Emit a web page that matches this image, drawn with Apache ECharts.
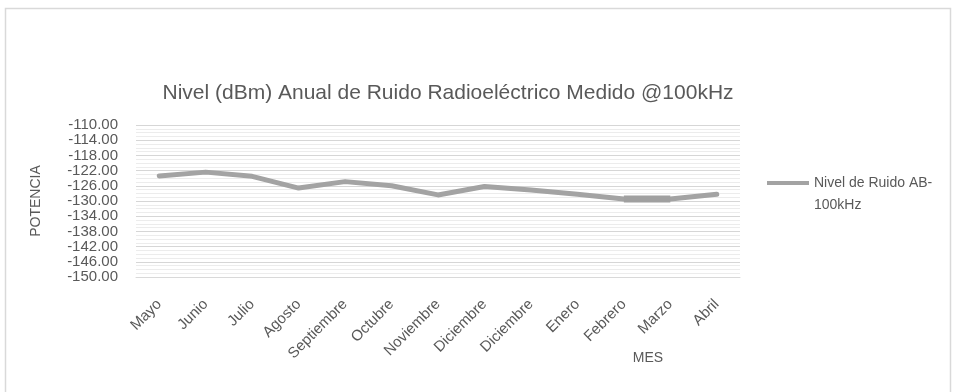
<!DOCTYPE html>
<html>
<head>
<meta charset="utf-8">
<script src="https://cdn.jsdelivr.net/npm/echarts@6/dist/echarts.min.js"></script>
<style>
  html, body { margin: 0; padding: 0; background: #ffffff; }
  #chart { width: 954px; height: 392px; }
</style>
</head>
<body>
<div id="chart"></div>
<script>
// Monthly categories (May to April)
const months = ['Mayo', 'Junio', 'Julio', 'Agosto', 'Septiembre', 'Octubre', 'Noviembre',
                'Diciembre', 'Diciembre', 'Enero', 'Febrero', 'Marzo', 'Abril'];
// Measured noise level, dBm
const noiseLevel = [-123.4, -122.4, -123.5, -126.6, -124.9, -126.0, -128.4,
                    -126.2, -127.1, -128.2, -129.5, -129.5, -128.2];
// Feb–Mar stretch drawn with a heavier stroke
const heavyIdx = [10, 11];
const heavySegment = noiseLevel.map((v, i) => heavyIdx.includes(i) ? v : null);

const yMin = -150, yMax = -110, yStep = 4;
const seriesName = 'Nivel de Ruido AB-\n100kHz';

const chart = echarts.init(document.getElementById('chart'), null, { renderer: 'canvas' });
const txt = '#595959';
const font = 'Liberation Sans, Arial, sans-serif';

chart.setOption({
  animation: false,
  backgroundColor: '#ffffff',
  textStyle: { fontFamily: font },
  graphic: [{
    type: 'rect',
    shape: { x: 5.5, y: 8.5, width: 945, height: 400 },
    style: { fill: 'none', stroke: '#d9d9d9', lineWidth: 1.5 },
    silent: true
  }],
  title: {
    text: 'Nivel (dBm) Anual de Ruido Radioeléctrico Medido @100kHz',
    left: 443, top: 78, textAlign: 'center',
    textStyle: { fontSize: 21, fontWeight: 'normal', color: txt, fontFamily: font }
  },
  legend: {
    data: [seriesName],
    left: 762, top: 167,
    itemWidth: 42, itemHeight: 26, itemGap: 4,
    // legend stroke sits level with the first text line
    icon: 'path://M0,0L42,0L42,4L0,4Z M0,25.9L0.05,25.9L0.05,26L0,26Z',
    textStyle: { fontSize: 14, color: txt, fontFamily: font, lineHeight: 22 }
  },
  grid: { left: 136, right: 214, top: 125, bottom: 115, containLabel: false },
  xAxis: {
    type: 'category',
    data: months,
    boundaryGap: true,
    name: 'MES',
    nameLocation: 'middle',
    nameGap: 74,
    nameMoveOverlap: false,
    nameTextStyle: { fontSize: 14, color: txt, padding: [0, 0, 0, 420] },
    axisLine: { show: true, lineStyle: { color: '#d9d9d9', width: 1 } },
    axisTick: { show: false },
    axisLabel: { rotate: 45, fontSize: 15, color: txt, margin: 25, interval: 0 },
    splitLine: { show: false }
  },
  yAxis: {
    type: 'value',
    min: yMin, max: yMax, interval: yStep,
    name: 'POTENCIA',
    nameLocation: 'middle',
    nameGap: 93,
    nameRotate: 90,
    nameTextStyle: { fontSize: 14, color: txt },
    axisLine: { show: false },
    axisTick: { show: false },
    axisLabel: {
      fontSize: 15, color: txt, margin: 18,
      showMinLabel: true, showMaxLabel: true,
      formatter: v => v.toFixed(2)
    },
    splitLine: { show: true, lineStyle: { color: '#d6d6d6', width: 1 } },
    minorTick: { show: false, splitNumber: 4 },
    minorSplitLine: { show: true, lineStyle: { color: '#ececec', width: 1 } }
  },
  series: [
    {
      name: seriesName,
      type: 'line',
      data: noiseLevel,
      symbol: 'none',
      smooth: false,
      lineStyle: { color: '#a3a3a3', width: 5, cap: 'round', join: 'round' },
      itemStyle: { color: '#a3a3a3' }
    },
    {
      name: 'tramo',
      type: 'line',
      data: heavySegment,
      symbol: 'none',
      connectNulls: false,
      lineStyle: { color: '#a0a0a0', width: 7, cap: 'butt' },
      itemStyle: { color: '#a0a0a0' }
    }
  ]
});
</script>
</body>
</html>
